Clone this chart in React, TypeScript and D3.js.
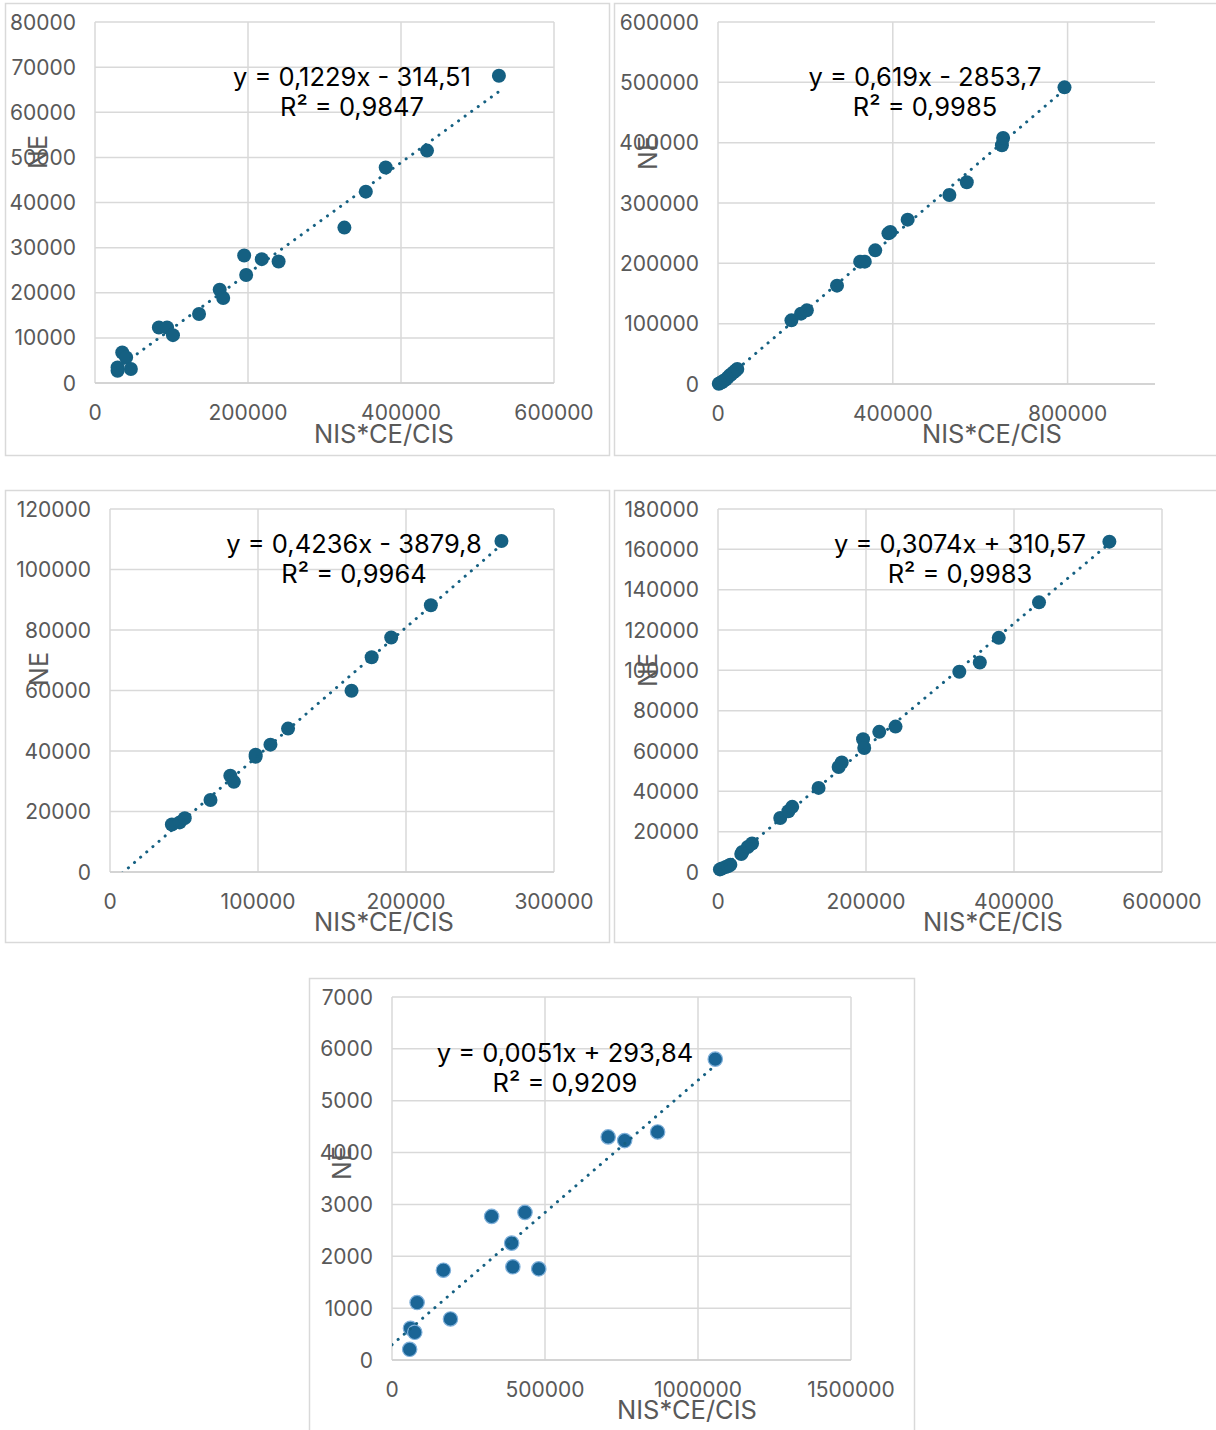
import React from "react";
import * as d3 from "d3";

// ---- data: NIS*CE/CIS (x) against NE (y), one scatter per panel ----
const p1X = [29500, 29500, 35600, 40700, 46900, 83500, 94200, 101900, 136000, 163000, 167600, 195000, 197600, 218000, 240000, 326000, 354000, 380000, 434000, 528000];
const p1Y = [2720, 3460, 6770, 5670, 3090, 12290, 12290, 10600, 15300, 20680, 18840, 28260, 23920, 27450, 26940, 34440, 42400, 47760, 51500, 68080];

const p2X = [1800, 4500, 8800, 12000, 17700, 22000, 26500, 30000, 35400, 40000, 44200, 168000, 190100, 203300, 272300, 325300, 335900, 359800, 390000, 394300, 434000, 529500, 569300, 649700, 652400, 792900];
const p2Y = [500, 1500, 2800, 5000, 7200, 10500, 13800, 16000, 19300, 22000, 24900, 105500, 116600, 122100, 163000, 202800, 202800, 221500, 249700, 251900, 272400, 313300, 334300, 395600, 407700, 491700];

const p3X = [41800, 47100, 50500, 67900, 81300, 83700, 98400, 98400, 108400, 120300, 163200, 176800, 190000, 216800, 264500];
const p3Y = [15700, 16400, 17800, 23800, 31800, 29800, 38100, 38800, 42100, 47400, 59900, 71000, 77500, 88200, 109400];

const p4X = [2600, 5200, 10500, 14000, 16700, 31400, 32900, 40200, 46000, 84100, 95100, 100300, 135900, 163000, 167200, 196000, 197600, 217900, 239900, 326100, 353800, 379400, 433800, 528900];
const p4Y = [1300, 1700, 2500, 3000, 3600, 8900, 9900, 12400, 14100, 26800, 30100, 32300, 41700, 52100, 54300, 65800, 61500, 69500, 72100, 99300, 103900, 116100, 133700, 163800];

const p5X = [57700, 60300, 74400, 82100, 167900, 191000, 325600, 391000, 394900, 434600, 479500, 706400, 760300, 868000, 1056400];
const p5Y = [206, 612, 534, 1108, 1732, 792, 2769, 2254, 1797, 2846, 1758, 4302, 4231, 4398, 5802];

// linear trend lines (slope, intercept, R²) and where each line starts
const slopes = [0.1229, 0.619, 0.4236, 0.3074, 0.0051];
const intercepts = [-314.51, -2853.7, -3879.8, 310.57, 293.84];
const rSquared = [0.9847, 0.9985, 0.9964, 0.9983, 0.9209];
const trendStarts = [29500, 1800, 0, 2600, 0];

// axis extents and tick steps
const xMaxes = [600000, 1000000, 300000, 600000, 1500000];
const xSteps = [200000, 400000, 100000, 200000, 500000];
const yMaxes = [80000, 600000, 120000, 180000, 7000];
const ySteps = [10000, 100000, 20000, 20000, 1000];

const xTitle = "NIS*CE/CIS";
const yTitle = "NE";

const FONT = 'Inter, "Liberation Sans", Arial, sans-serif';
const GRID = "#d9d9d9";
const TICK = "#595959";
const MARK = "#156082";

type Layout = {
  frame: [number, number, number, number];
  plot: { left: number; right: number; top: number; bottom: number };
  eq: [number, number];
  ne: [number, number];
  title: [number, number];
  glow?: boolean;
};

const layouts: Layout[] = [
  { frame: [5.5, 3.5, 609.5, 455.5], plot: { left: 95, right: 554, top: 22, bottom: 383 }, eq: [352, 86], ne: [38, 152], title: [384, 443] },
  { frame: [614.5, 3.5, 1222, 455.5], plot: { left: 718, right: 1155, top: 22, bottom: 384 }, eq: [925, 86], ne: [648, 153], title: [992, 443] },
  { frame: [5.5, 490.5, 609.5, 942.5], plot: { left: 110, right: 554, top: 509, bottom: 872 }, eq: [354, 553], ne: [39, 669], title: [384, 931] },
  { frame: [614.5, 490.5, 1222, 942.5], plot: { left: 718, right: 1162, top: 509, bottom: 872 }, eq: [960, 553], ne: [648, 670], title: [993, 931] },
  { frame: [309.5, 978.5, 914.5, 1436], plot: { left: 392, right: 851, top: 997, bottom: 1360 }, eq: [565, 1062], ne: [342, 1163], title: [687, 1419], glow: true },
];

const seriesX = [p1X, p2X, p3X, p4X, p5X];
const seriesY = [p1Y, p2Y, p3Y, p4Y, p5Y];

const fmt = (v: number) => String(v).replace(".", ",");

function Panel({ i }: { i: number }) {
  const L = layouts[i];
  const { left, right, top, bottom } = L.plot;
  const xs = seriesX[i];
  const ys = seriesY[i];
  const x = d3.scaleLinear().domain([0, xMaxes[i]]).range([left, right]);
  const y = d3.scaleLinear().domain([0, yMaxes[i]]).range([bottom, top]);
  const xTicks = d3.range(0, xMaxes[i] + 1, xSteps[i]);
  const yTicks = d3.range(0, yMaxes[i] + 1, ySteps[i]);

  const m = slopes[i];
  const b = intercepts[i];
  const x0 = trendStarts[i];
  const x1 = d3.max(xs) as number;
  const line = d3.line<number>().x((v) => x(v)).y((v) => y(m * v + b));
  const clipId = `clip-${i}`;

  const eq1 = `y = ${fmt(m)}x ${b < 0 ? "-" : "+"} ${fmt(Math.abs(b))}`;
  const eq2 = `R² = ${fmt(rSquared[i])}`;
  const [fx0, fy0, fx1, fy1] = L.frame;

  return (
    <g>
      <rect x={fx0} y={fy0} width={fx1 - fx0} height={fy1 - fy0} fill="#fff" stroke={GRID} strokeWidth={1.5} />
      <defs>
        <clipPath id={clipId}>
          <rect x={left} y={top} width={right - left} height={bottom - top} />
        </clipPath>
      </defs>
      {yTicks.map((t) => (
        <line key={"gy" + t} x1={left} x2={right} y1={y(t)} y2={y(t)} stroke={GRID} strokeWidth={1.5} />
      ))}
      {xTicks.map((t) => (
        <line key={"gx" + t} x1={x(t)} x2={x(t)} y1={top} y2={bottom} stroke={GRID} strokeWidth={1.5} />
      ))}
      <line x1={left} x2={right} y1={bottom} y2={bottom} stroke="#cfcfcf" strokeWidth={1.5} />
      {yTicks.map((t) => (
        <text key={"ty" + t} x={left - 19} y={y(t)} dy="0.36em" textAnchor="end" fontSize={21} fill={TICK} fontFamily={FONT}>
          {t}
        </text>
      ))}
      {xTicks.map((t) => (
        <text key={"tx" + t} x={x(t)} y={bottom + 37} textAnchor="middle" fontSize={21} fill={TICK} fontFamily={FONT}>
          {t}
        </text>
      ))}
      <text x={L.title[0]} y={L.title[1]} textAnchor="middle" fontSize={25.5} fill={TICK} fontFamily={FONT}>
        {xTitle}
      </text>
      <text
        transform={`translate(${L.ne[0]},${L.ne[1]}) rotate(-90)`}
        textAnchor="middle"
        dy="0.36em"
        fontSize={25}
        fill={TICK}
        fontFamily={FONT}
      >
        {yTitle}
      </text>
      {xs.map((v, k) => (
        <circle
          key={"p" + k}
          cx={x(v)}
          cy={y(ys[k])}
          r={L.glow ? 7.2 : 7}
          fill={L.glow ? "#1a6596" : MARK}
          stroke={L.glow ? "#7fb0da" : "none"}
          strokeWidth={L.glow ? 1.2 : 0}
        />
      ))}
      <path
        d={line([x0, x1]) as string}
        clipPath={`url(#${clipId})`}
        fill="none"
        stroke={MARK}
        strokeWidth={3}
        strokeLinecap="round"
        strokeDasharray="0.1 8"
      />
      <text x={L.eq[0]} y={L.eq[1]} textAnchor="middle" fontSize={25.5} fill="#000" fontFamily={FONT}>
        {eq1}
      </text>
      <text x={L.eq[0]} y={L.eq[1] + 30} textAnchor="middle" fontSize={25.5} fill="#000" fontFamily={FONT}>
        {eq2}
      </text>
    </g>
  );
}

export default function App() {
  return (
    <svg
      width={1216}
      height={1430}
      viewBox="0 0 1216 1430"
      style={{ position: "absolute", left: 0, top: 0, background: "#fff" }}
    >
      <rect width={1216} height={1430} fill="#fff" />
      {layouts.map((_, i) => (
        <Panel key={i} i={i} />
      ))}
    </svg>
  );
}
